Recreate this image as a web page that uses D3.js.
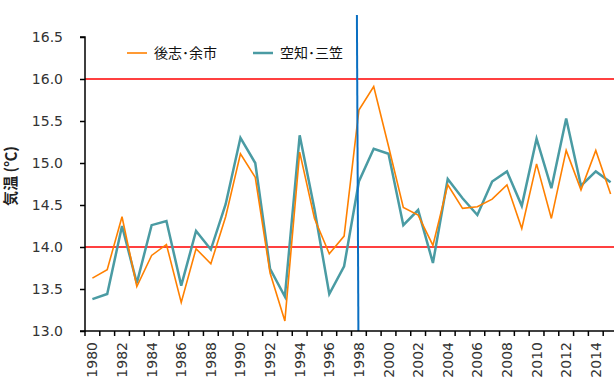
<!DOCTYPE html>
<html><head><meta charset="utf-8">
<script src="https://cdn.jsdelivr.net/npm/d3@7"></script>
<style>body{margin:0;background:#fff}svg{display:block}</style>
</head><body>
<script>
const years = d3.range(1980, 2016);
const shiribeshiYoichi = [13.63,13.73,14.36,13.53,13.90,14.03,13.34,13.98,13.80,14.36,
  15.11,14.83,13.69,13.12,15.13,14.34,13.92,14.13,15.63,15.91,
  15.20,14.47,14.38,14.02,14.74,14.46,14.48,14.57,14.74,14.22,
  14.99,14.34,15.15,14.68,15.15,14.63];
const sorachiMikasa = [13.38,13.44,14.25,13.57,14.26,14.31,13.54,14.19,13.97,14.51,
  15.30,15.00,13.74,13.41,15.33,14.45,13.44,13.77,14.78,15.17,
  15.11,14.26,14.44,13.81,14.81,14.58,14.38,14.78,14.90,14.49,
  15.29,14.70,15.53,14.73,14.90,14.77];
const yTicks = [13.0,13.5,14.0,14.5,15.0,15.5,16.0,16.5];
const refLines = [14.0, 16.0];
const markerYear = 1998;
const seriesNames = ["後志･余市", "空知･三笠"];
const seriesColors = ["#FF8000", "#4A9BA3"];

const W = 614, H = 387;
const svg = d3.select("body").append("svg").attr("width", W).attr("height", H);
const x = d3.scaleBand().domain(years).range([85, 618]).padding(0);
const xc = d => x(d) + x.bandwidth() / 2;
const y = d3.scaleLinear().domain([13, 16.5]).range([331, 37]);
const font = "'DejaVu Sans', sans-serif";

// reference red lines
svg.selectAll("line.ref").data(refLines).enter().append("line")
  .attr("x1", 85).attr("x2", W).attr("y1", d => y(d)).attr("y2", d => y(d))
  .attr("stroke", "#FF0000").attr("stroke-width", 1.5);

// series lines
const line = data => d3.line().x((d, i) => xc(years[i])).y(d => y(d))(data);
svg.append("path").attr("d", line(sorachiMikasa)).attr("fill", "none")
  .attr("stroke", seriesColors[1]).attr("stroke-width", 2.5).attr("stroke-linejoin", "miter");
svg.append("path").attr("d", line(shiribeshiYoichi)).attr("fill", "none")
  .attr("stroke", seriesColors[0]).attr("stroke-width", 1.6);

// vertical marker line
svg.append("line")
  .attr("x1", xc(markerYear) - 2).attr("x2", xc(markerYear) - 0.5)
  .attr("y1", 15).attr("y2", y(13))
  .attr("stroke", "#0A6FC2").attr("stroke-width", 2);

// y axis
const yAxis = d3.axisLeft(y).tickValues(yTicks).tickFormat(d3.format(".1f")).tickSize(5).tickPadding(17);
const gy = svg.append("g").attr("transform", "translate(85,0)").call(yAxis);
gy.select(".domain").attr("stroke", "#000").attr("stroke-width", 1.5).attr("d", `M-5,${y(16.5)}H0V${y(13)}H-5`);
gy.selectAll(".tick line").attr("stroke", "#000").attr("stroke-width", 1.5);
gy.selectAll("text").attr("font-family", font).attr("font-size", 14).attr("fill", "#333");

// x axis
const bounds = years.map(d => x(d)).concat([x(years[years.length-1]) + x.bandwidth()]);
const gx = svg.append("g");
gx.append("line").attr("x1", 85).attr("x2", W).attr("y1", y(13)).attr("y2", y(13))
  .attr("stroke", "#000").attr("stroke-width", 1.5);
gx.selectAll("line.t").data(bounds).enter().append("line")
  .attr("x1", d => d).attr("x2", d => d).attr("y1", y(13)).attr("y2", y(13) + 5)
  .attr("stroke", "#000").attr("stroke-width", 1.5);
gx.selectAll("text").data(years.filter(d => d % 2 === 0)).enter().append("text")
  .attr("transform", d => `translate(${xc(d) + 5},${y(13) + 11}) rotate(-90)`)
  .attr("text-anchor", "end")
  .attr("font-family", font).attr("font-size", 14).attr("fill", "#333")
  .text(d => d);

// y label
svg.append("text").attr("transform", "translate(16,176) rotate(-90)")
  .attr("text-anchor", "middle").attr("font-family", "'Noto Sans CJK JP', sans-serif")
  .attr("font-size", 15).attr("font-weight", "bold").attr("fill", "#222")
  .text("気温 (℃)");

// legend
const legX = [127, 253];
seriesNames.forEach((n, i) => {
  svg.append("line").attr("x1", legX[i]).attr("x2", legX[i] + 20).attr("y1", 53).attr("y2", 53)
    .attr("stroke", seriesColors[i]).attr("stroke-width", i === 1 ? 2.5 : 1.6);
  svg.append("text").attr("x", legX[i] + 27).attr("y", 58)
    .attr("font-family", "'Noto Sans CJK JP', sans-serif").attr("font-size", 14).attr("fill", "#111")
    .text(n);
});
</script>
</body></html>
